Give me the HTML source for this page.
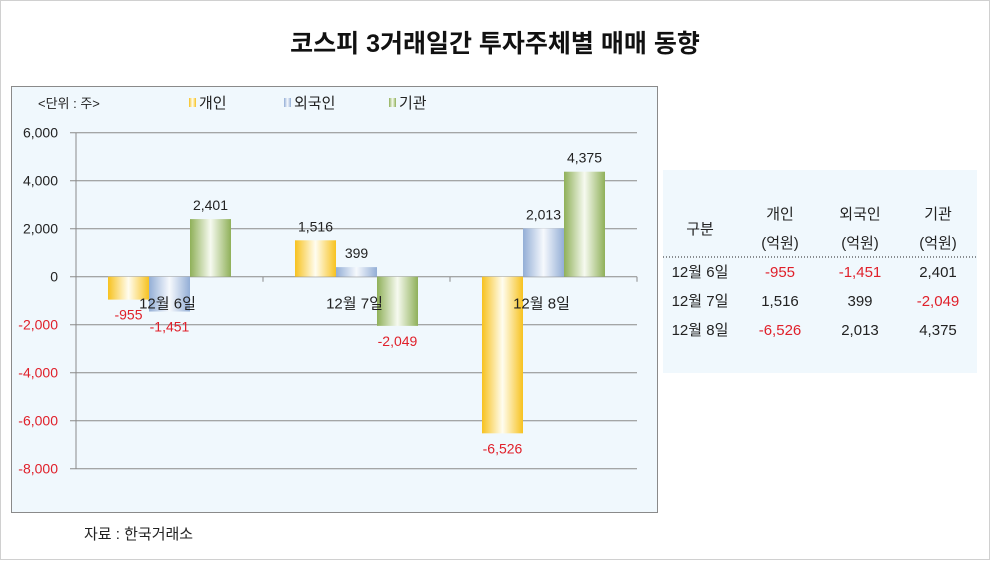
<!DOCTYPE html>
<html><head><meta charset="utf-8">
<style>
html,body{margin:0;padding:0;background:#fff}
body{width:990px;height:560px;overflow:hidden;font-family:"Liberation Sans","Noto Sans CJK KR",sans-serif}
svg text{font-family:"Liberation Sans","Noto Sans CJK KR",sans-serif}
</style></head>
<body>
<svg width="990" height="560" xmlns="http://www.w3.org/2000/svg">
<defs>
<linearGradient id="gy" x1="0" x2="1" y1="0" y2="0"><stop offset="0" stop-color="#f7c21f"/><stop offset="0.5" stop-color="#fffdf0"/><stop offset="1" stop-color="#f7c21f"/></linearGradient>
<linearGradient id="gb" x1="0" x2="1" y1="0" y2="0"><stop offset="0" stop-color="#93aed6"/><stop offset="0.5" stop-color="#f6f9fd"/><stop offset="1" stop-color="#93aed6"/></linearGradient>
<linearGradient id="gg" x1="0" x2="1" y1="0" y2="0"><stop offset="0" stop-color="#8fb059"/><stop offset="0.5" stop-color="#f6faf0"/><stop offset="1" stop-color="#8fb059"/></linearGradient>
</defs>
<rect x="0.5" y="0.5" width="989" height="559" fill="#fff" stroke="#d0d0d0"/>
<text x="495" y="52" text-anchor="middle" font-size="25" font-weight="bold" fill="#111">코스피 3거래일간 투자주체별 매매 동향</text>
<rect x="11.5" y="86.5" width="646" height="426" fill="#f0f8fd" stroke="#8a8a8a"/>
<text x="38" y="108" font-size="13" fill="#222">&lt;단위 : 주&gt;</text>
<g id="legend"></g>
<g id="chart"></g>
<text x="84" y="539" font-size="15" fill="#222">자료 : 한국거래소</text>
<rect x="663" y="170" width="314" height="203" fill="#f0f8fd"/>
<g font-size="15" fill="#222" text-anchor="middle">
<text x="700" y="234">구분</text>
<text x="780" y="219">개인</text>
<text x="780" y="248">(억원)</text>
<text x="860" y="219">외국인</text>
<text x="860" y="248">(억원)</text>
<text x="938" y="219">기관</text>
<text x="938" y="248">(억원)</text>
<line x1="663" y1="257" x2="978" y2="257" stroke="#222" stroke-dasharray="1,2"/>
<text x="700" y="277">12월 6일</text><text x="780" y="277" fill="#e0202a">-955</text><text x="860" y="277" fill="#e0202a">-1,451</text><text x="938" y="277">2,401</text>
<text x="700" y="306">12월 7일</text><text x="780" y="306">1,516</text><text x="860" y="306">399</text><text x="938" y="306" fill="#e0202a">-2,049</text>
<text x="700" y="335">12월 8일</text><text x="780" y="335" fill="#e0202a">-6,526</text><text x="860" y="335">2,013</text><text x="938" y="335">4,375</text>
</g>
</svg>
<script>
const categories=["12월 6일","12월 7일","12월 8일"];
const seriesNames=["개인","외국인","기관"];
const individual=[-955,1516,-6526];
const foreign=[-1451,399,2013];
const institution=[2401,-2049,4375];
const tickValues=[6000,4000,2000,0,-2000,-4000,-6000,-8000];
const tickLabels=["6,000","4,000","2,000","0","-2,000","-4,000","-6,000","-8,000"];

const NS="http://www.w3.org/2000/svg";
const chart=document.getElementById('chart');
const legend=document.getElementById('legend');
const X0=76,X1=637,YMAX=6000,YMIN=-8000,YT=132.7,YB=468.7;
const y=v=>YT+(YMAX-v)/(YMAX-YMIN)*(YB-YT);
const catW=(X1-X0)/categories.length;
const barW=41;
function mk(tag,attrs,parent){const e=document.createElementNS(NS,tag);for(const k in attrs)e.setAttribute(k,attrs[k]);parent.appendChild(e);return e;}
// grid & ticks
tickValues.forEach((v,i)=>{
  const g=mk('line',{x1:X0-6,x2:X1,y1:y(v),y2:y(v),stroke:'#8a8a8a'},chart);
  
  
  const t=mk('text',{x:58,y:y(v)+5,'text-anchor':'end','font-size':14,fill:v<0?'#e0202a':'#222'},chart);
  t.textContent=tickLabels[i];
  
  
});
const ax=mk('line',{x1:X0,x2:X0,y1:YT,y2:YB,stroke:'#8a8a8a'},chart);


for(let i=1;i<=categories.length;i++){
  const tk=mk('line',{x1:X0+catW*i,x2:X0+catW*i,y1:y(0),y2:y(0)+5,stroke:'#8a8a8a'},chart);
  
  
}
const series=[individual,foreign,institution];
const fills=['url(#gy)','url(#gb)','url(#gg)'];
const keys=['individual','foreign','institution'];
categories.forEach((c,ci)=>{
  const cx=X0+catW*(ci+0.5);
  series.forEach((s,si)=>{
    const v=s[ci];
    const bx=cx-1.5*barW+si*barW;
    const top=Math.min(y(v),y(0)),h=Math.abs(y(v)-y(0));
    const r=mk('rect',{x:bx,y:top,width:barW,height:h,fill:fills[si]},chart);
    
    
    const lbl=mk('text',{x:bx+barW/2,y:v>=0?y(v)-9:y(v)+20,'text-anchor':'middle','font-size':14,fill:v<0?'#e0202a':'#222'},chart);
    lbl.textContent=v.toLocaleString('en-US');
    
    
  });
  const cl=mk('text',{x:cx-2,y:y(0)+32,'text-anchor':'middle','font-size':15,fill:'#222'},chart);
  cl.textContent=c;
  
  
});
const lx=[189,284,389];
seriesNames.forEach((n,i)=>{
  const sw=mk('rect',{x:lx[i],y:98,width:7,height:9,fill:fills[i]},legend);
  
  
  const t=mk('text',{x:lx[i]+10,y:108,'font-size':15,fill:'#222'},legend);
  t.textContent=n;
  
  
});
</script>
</body></html>
